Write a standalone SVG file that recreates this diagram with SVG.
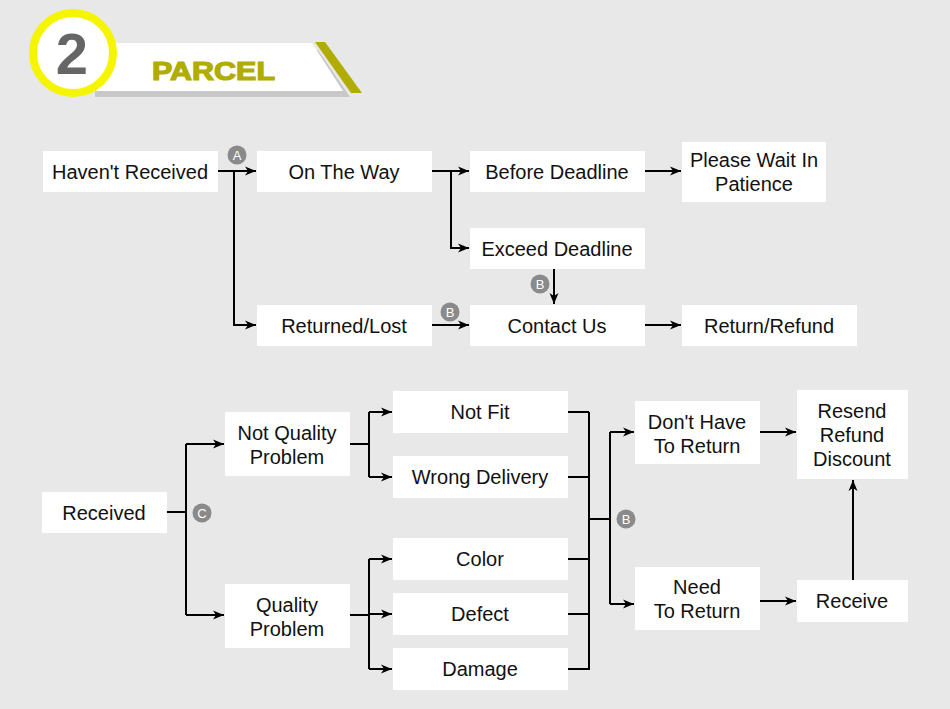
<svg xmlns="http://www.w3.org/2000/svg" width="950" height="709" viewBox="0 0 950 709">
<defs>
<style>
.box{fill:#fff}
.t{font-family:"Liberation Sans",Arial,sans-serif;font-size:20px;fill:#111;text-anchor:middle}
.c{fill:none;stroke:#000;stroke-width:2}
.a{marker-end:url(#arr)}
.bd circle{fill:#8a8a8a}
.bd text{font-family:"Liberation Sans",Arial,sans-serif;font-size:13px;fill:#fff;text-anchor:middle}
</style>
<marker id="arr" markerUnits="userSpaceOnUse" markerWidth="12" markerHeight="10" refX="11" refY="5" orient="auto">
<path d="M0,0.5 L11,5 L0,9.5 L3,5 z" fill="#000"/>
</marker>
</defs>
<rect width="950" height="709" fill="#e8e8e8"/>

<g id="header">
<polygon points="95,50 318,50 350,97 95,97" fill="#c8c8c8"/>
<polygon points="95,43 312,43 343,91 95,91" fill="#fff"/>
<polygon points="315,42 325,42 362,93 351,93" fill="#b0ad00"/>
<circle cx="73" cy="53" r="40" fill="#fff" stroke="#f5f500" stroke-width="8"/>
<text x="72" y="74" font-family="'Liberation Sans',Arial,sans-serif" font-weight="bold" font-size="58" fill="#666" text-anchor="middle">2</text>
<text x="152" y="80" textLength="123" lengthAdjust="spacingAndGlyphs" font-family="'Liberation Sans',Arial,sans-serif" font-weight="900" font-size="25" fill="#b0ad00" stroke="#b0ad00" stroke-width="1.2">PARCEL</text>
</g>

<g id="connectors">
<path class="c a" d="M218,171 H256"/>
<path class="c a" d="M234,171 V325 H256"/>
<path class="c a" d="M432,171 H469"/>
<path class="c a" d="M451,171 V248 H469"/>
<path class="c a" d="M645,171 H681"/>
<path class="c a" d="M554,269 V304"/>
<path class="c a" d="M432,325 H469"/>
<path class="c a" d="M645,325 H681"/>
<path class="c" d="M167,512 H186 M186,444 V615"/>
<path class="c a" d="M186,444 H224"/>
<path class="c a" d="M186,615 H224"/>
<path class="c" d="M350,444 H369 M369,412 V477"/>
<path class="c a" d="M369,412 H392"/>
<path class="c a" d="M369,477 H392"/>
<path class="c" d="M350,615 H369 M369,559 V669"/>
<path class="c a" d="M369,559 H392"/>
<path class="c a" d="M369,614 H392"/>
<path class="c a" d="M369,669 H392"/>
<path class="c" d="M568,412 H589 M568,477 H589 M568,559 H589 M568,614 H589 M568,669 H589 M589,412 V670 M589,519 H610 M610,432 V604"/>
<path class="c a" d="M610,432 H634"/>
<path class="c a" d="M610,604 H634"/>
<path class="c a" d="M760,432 H796"/>
<path class="c a" d="M760,601 H796"/>
<path class="c a" d="M853,580 V480"/>
</g>

<g class="bd" id="badges">
<g id="badge-a"><circle cx="237" cy="155" r="9.5"/><text x="237" y="160">A</text></g>
<g id="badge-b1"><circle cx="450" cy="312" r="9.5"/><text x="450" y="317">B</text></g>
<g id="badge-b2"><circle cx="540" cy="284" r="9.5"/><text x="540" y="289">B</text></g>
<g id="badge-c"><circle cx="202" cy="513" r="9.5"/><text x="202" y="518">C</text></g>
<g id="badge-b3"><circle cx="626" cy="519" r="9.5"/><text x="626" y="524">B</text></g>
</g>

<g id="n-havent"><rect class="box" x="43" y="151" width="175" height="41"/><text class="t" x="130" y="179">Haven't Received</text></g>
<g id="n-ontheway"><rect class="box" x="257" y="151" width="175" height="41"/><text class="t" x="344" y="179">On The Way</text></g>
<g id="n-before"><rect class="box" x="470" y="151" width="175" height="41"/><text class="t" x="557" y="179">Before Deadline</text></g>
<g id="n-wait"><rect class="box" x="682" y="142" width="144" height="60"/><text class="t" x="754" y="167">Please Wait In</text><text class="t" x="754" y="191">Patience</text></g>
<g id="n-exceed"><rect class="box" x="470" y="228" width="175" height="41"/><text class="t" x="557" y="256">Exceed Deadline</text></g>
<g id="n-returned"><rect class="box" x="257" y="305" width="175" height="41"/><text class="t" x="344" y="333">Returned/Lost</text></g>
<g id="n-contact"><rect class="box" x="470" y="305" width="175" height="41"/><text class="t" x="557" y="333">Contact Us</text></g>
<g id="n-refund"><rect class="box" x="682" y="305" width="175" height="41"/><text class="t" x="769" y="333">Return/Refund</text></g>

<g id="n-received"><rect class="box" x="42" y="492" width="125" height="41"/><text class="t" x="104" y="520">Received</text></g>
<g id="n-nqp"><rect class="box" x="225" y="412" width="125" height="64"/><text class="t" x="287" y="440">Not Quality</text><text class="t" x="287" y="464">Problem</text></g>
<g id="n-qp"><rect class="box" x="225" y="584" width="125" height="64"/><text class="t" x="287" y="612">Quality</text><text class="t" x="287" y="636">Problem</text></g>
<g id="n-notfit"><rect class="box" x="393" y="391" width="175" height="42"/><text class="t" x="480" y="419">Not Fit</text></g>
<g id="n-wrong"><rect class="box" x="393" y="456" width="175" height="42"/><text class="t" x="480" y="484">Wrong Delivery</text></g>
<g id="n-color"><rect class="box" x="393" y="538" width="175" height="42"/><text class="t" x="480" y="566">Color</text></g>
<g id="n-defect"><rect class="box" x="393" y="593" width="175" height="42"/><text class="t" x="480" y="621">Defect</text></g>
<g id="n-damage"><rect class="box" x="393" y="648" width="175" height="42"/><text class="t" x="480" y="676">Damage</text></g>
<g id="n-dont"><rect class="box" x="635" y="401" width="125" height="63"/><text class="t" x="697" y="429">Don't Have</text><text class="t" x="697" y="453">To Return</text></g>
<g id="n-need"><rect class="box" x="635" y="567" width="125" height="63"/><text class="t" x="697" y="594">Need</text><text class="t" x="697" y="618">To Return</text></g>
<g id="n-resend"><rect class="box" x="797" y="390" width="111" height="89"/><text class="t" x="852" y="418">Resend</text><text class="t" x="852" y="442">Refund</text><text class="t" x="852" y="466">Discount</text></g>
<g id="n-receive"><rect class="box" x="797" y="580" width="111" height="42"/><text class="t" x="852" y="608">Receive</text></g>
</svg>
